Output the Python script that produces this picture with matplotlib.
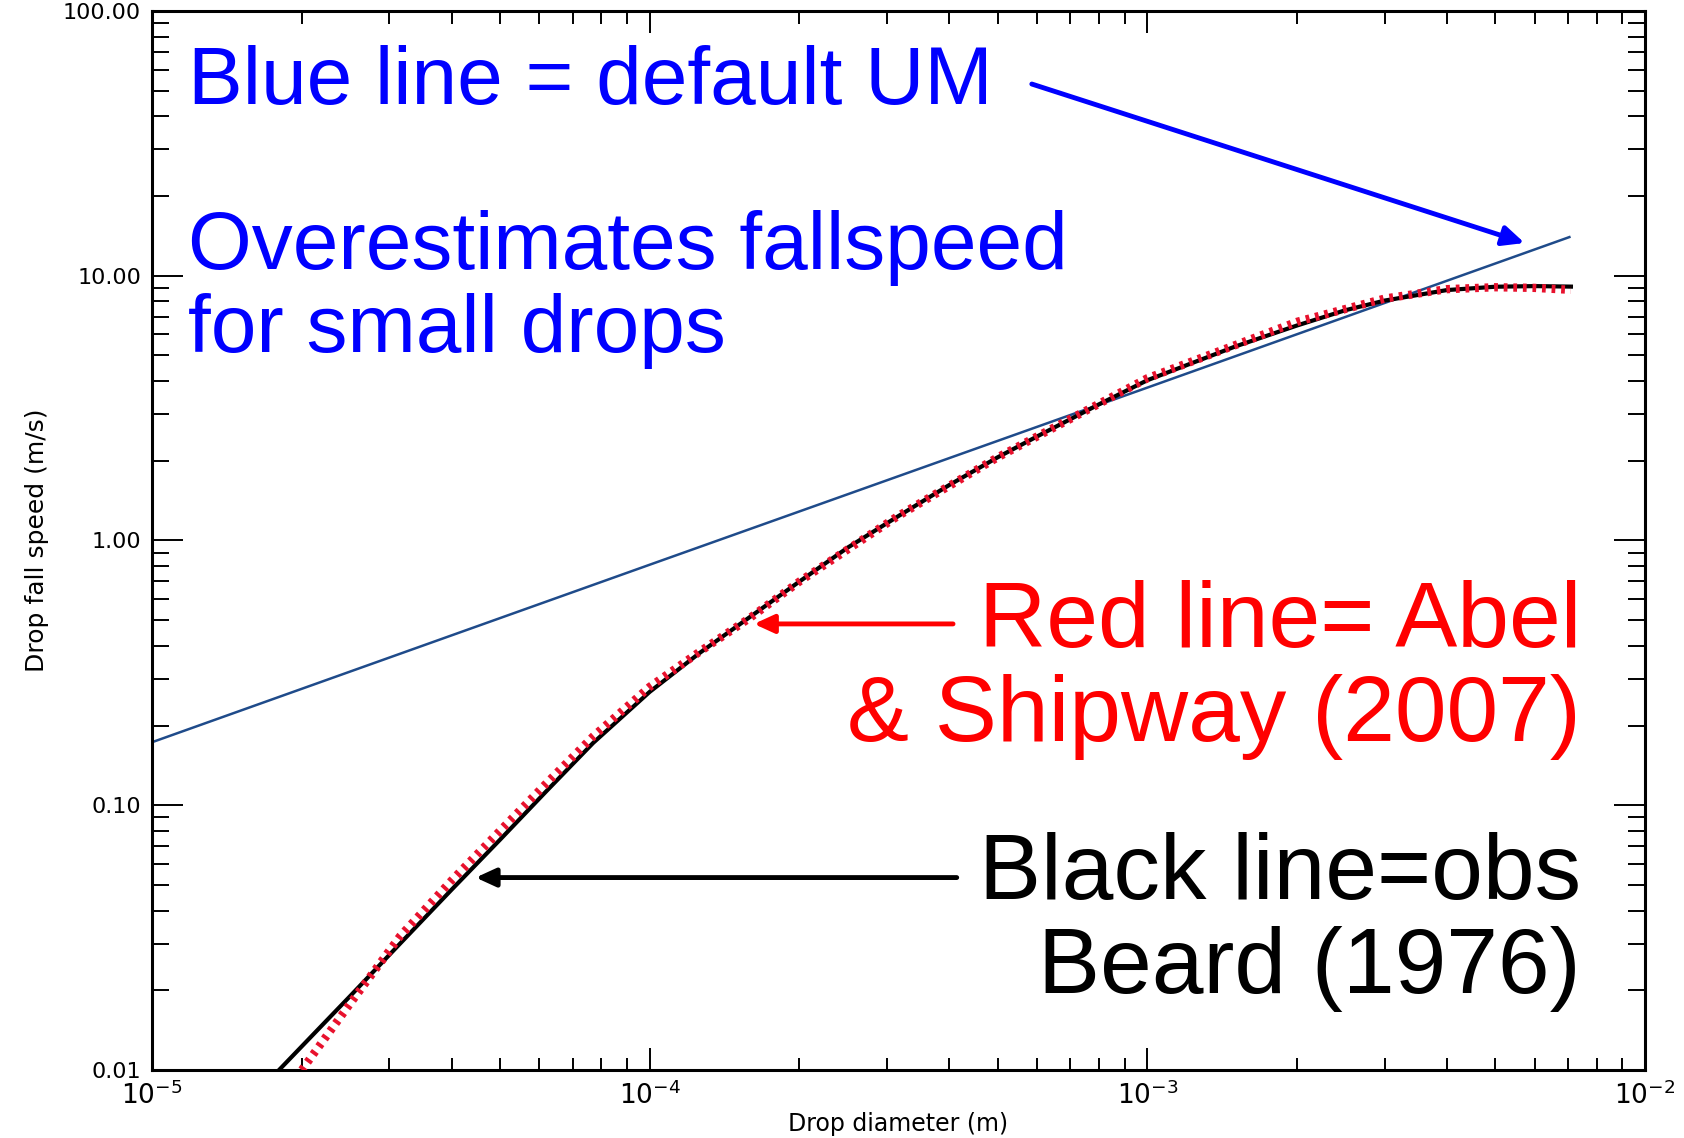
import matplotlib
matplotlib.use('Agg')
import matplotlib.pyplot as plt
from matplotlib.ticker import LogLocator, FixedFormatter, FixedLocator

# Blue: default UM fall speed (straight line in log-log)
um_d = [1e-5, 1e-4, 1e-3, 7.05e-3]
um_v = [0.173, 0.81, 3.78, 14.0]

# Black: observations, Beard (1976)
obs_d = [1.8e-5, 2.5e-5, 3.15e-5, 4e-5, 5e-5, 6.2e-5, 7.7e-5, 1e-4, 1.26e-4, 1.59e-4,
         2e-4, 2.5e-4, 3.14e-4, 4e-4, 5e-4, 6e-4, 8e-4, 1e-3, 1.5e-3, 2e-3,
         2.5e-3, 3e-3, 4e-3, 5e-3, 6e-3, 7.1e-3]
obs_v = [0.01, 0.019, 0.030, 0.048, 0.074, 0.113, 0.172, 0.268, 0.376, 0.514,
         0.70, 0.94, 1.227, 1.62, 2.06, 2.47, 3.27, 4.03, 5.4, 6.49,
         7.41, 8.06, 8.83, 9.09, 9.14, 9.1]

# Red: Abel & Shipway (2007)
as_d = [2e-5, 2.5e-5, 3.15e-5, 4e-5, 5e-5, 6.2e-5, 7.7e-5, 1e-4, 1.26e-4, 1.59e-4,
        2e-4, 3.14e-4, 5e-4, 1e-3, 2e-3, 3e-3, 4e-3, 5e-3, 6e-3, 7.1e-3]
as_v = [0.01, 0.0178, 0.032, 0.052, 0.080, 0.121, 0.182, 0.28, 0.38, 0.51,
        0.70, 1.23, 2.06, 4.1, 6.7, 8.2, 8.9, 9.05, 9.0, 8.85]

ytick_vals = [0.01, 0.1, 1, 10, 100]
ytick_labels = ['0.01', '0.10', '1.00', '10.00', '100.00']
xtick_vals = [1e-5, 1e-4, 1e-3, 1e-2]
xtick_labels = [r'$10^{-5}$', r'$10^{-4}$', r'$10^{-3}$', r'$10^{-2}$']

fig = plt.figure(figsize=(16.84, 11.38), dpi=100)
ax = fig.add_axes([0.0903, 0.0598, 0.8865, 0.9305])

ax.plot(um_d, um_v, color='#1f4b8a', lw=1.8, zorder=2)
ax.plot(obs_d, obs_v, color='black', lw=3.0, zorder=3)
ax.plot(as_d, as_v, color='#e8112d', lw=6, linestyle=(0, (0.45, 0.7)), zorder=4)

ax.set_xscale('log')
ax.set_yscale('log')
ax.set_xlim(1e-5, 1e-2)
ax.set_ylim(0.01, 100)

ax.yaxis.set_major_locator(FixedLocator(ytick_vals))
ax.yaxis.set_major_formatter(FixedFormatter(ytick_labels))
ax.xaxis.set_major_locator(FixedLocator(xtick_vals))
ax.xaxis.set_major_formatter(FixedFormatter(xtick_labels))
ax.xaxis.set_minor_locator(LogLocator(base=10, subs=range(2, 10)))
ax.yaxis.set_minor_locator(LogLocator(base=10, subs=range(2, 10)))

ax.tick_params(axis='both', which='both', direction='in', top=True, right=True,
               width=1.4)
ax.tick_params(axis='y', which='major', length=22, labelsize=16, pad=8)
ax.tick_params(axis='y', which='minor', length=12)
ax.tick_params(axis='x', which='major', length=16, labelsize=19, pad=8)
ax.tick_params(axis='x', which='minor', length=9)
for s in ax.spines.values():
    s.set_linewidth(2.2)

fig.text(0.5333, 0.0125, 'Drop diameter (m)', fontsize=17, ha='center', va='center')
ax.set_ylabel('Drop fall speed (m/s)', fontsize=18, labelpad=10)

big = 'Liberation Sans'
fig.text(0.1116, 0.9086, 'Blue line = default UM', color='#0000ff', fontsize=59,
         family=big, va='baseline', ha='left')
fig.text(0.1116, 0.764, 'Overestimates fallspeed', color='#0000ff', fontsize=59,
         family=big, va='baseline', ha='left')
fig.text(0.1116, 0.6907, 'for small drops', color='#0000ff', fontsize=59,
         family=big, va='baseline', ha='left')

fig.text(0.9388, 0.4319, 'Red line= Abel', color='#ff0000', fontsize=67,
         family=big, va='baseline', ha='right')
fig.text(0.9388, 0.3489, '& Shipway (2007)', color='#ff0000', fontsize=67,
         family=big, va='baseline', ha='right')

fig.text(0.9388, 0.210, 'Black line=obs', color='black', fontsize=67,
         family=big, va='baseline', ha='right')
fig.text(0.9388, 0.127, 'Beard (1976)', color='black', fontsize=67,
         family=big, va='baseline', ha='right')

# arrows
ax.annotate('', xy=(5.73e-3, 13.3), xytext=(5.86e-4, 53),
            arrowprops=dict(arrowstyle='-|>,head_length=1.3,head_width=0.6',
                            color='#0000ff', lw=3.5, shrinkA=0, shrinkB=0))
ax.annotate('', xy=(1.62e-4, 0.484), xytext=(4.07e-4, 0.484),
            arrowprops=dict(arrowstyle='-|>,head_length=1.2,head_width=0.55',
                            color='#ff0000', lw=3.5, shrinkA=0, shrinkB=0))
ax.annotate('', xy=(4.47e-5, 0.0533), xytext=(4.14e-4, 0.0533),
            arrowprops=dict(arrowstyle='-|>,head_length=1.2,head_width=0.55',
                            color='black', lw=3.5, shrinkA=0, shrinkB=0))

fig.savefig('out.png', dpi=100)
